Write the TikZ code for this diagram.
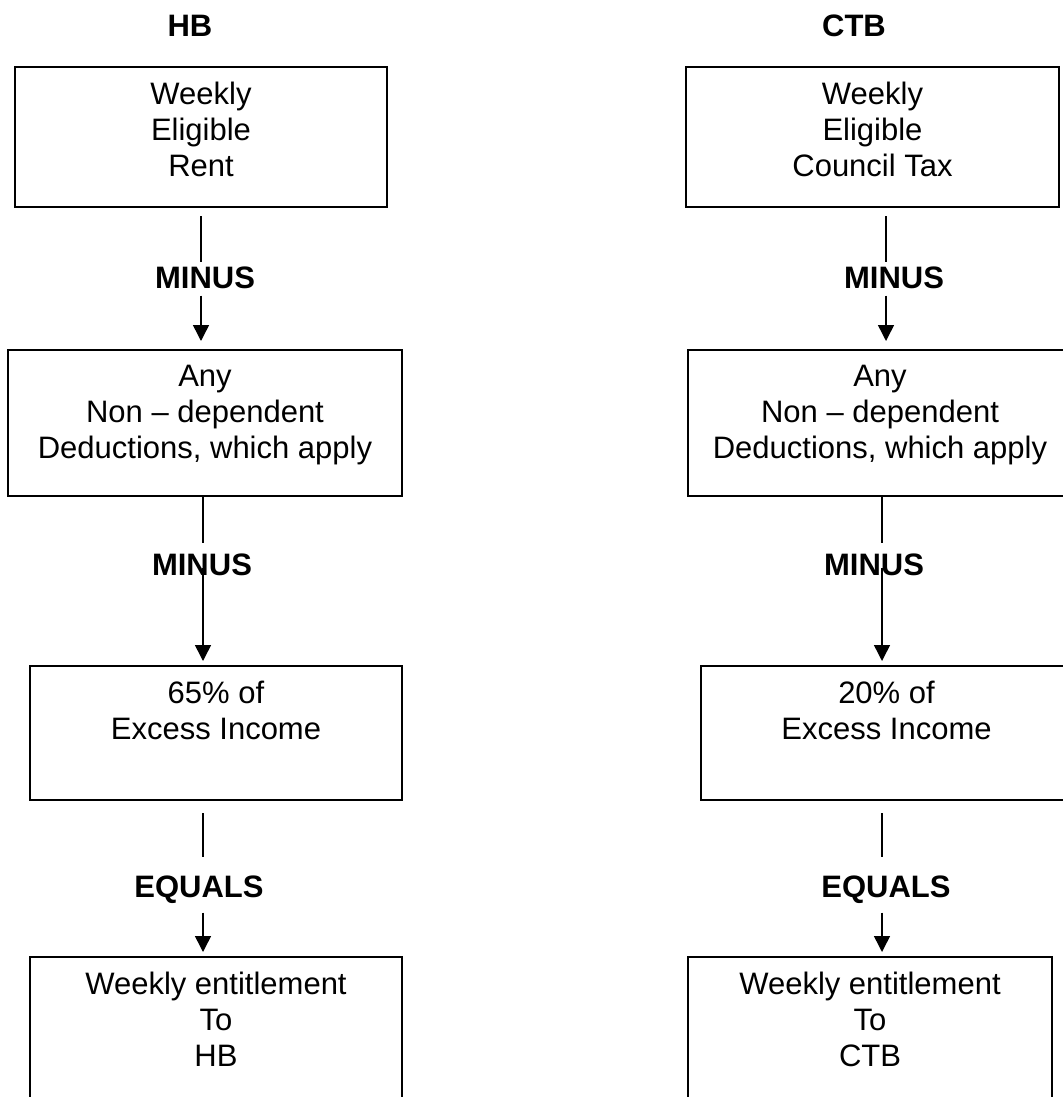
\documentclass[tikz,border=0pt]{standalone}
\usepackage{fontspec}
\setmainfont{Liberation Sans}
\usetikzlibrary{arrows.meta,positioning}

\begin{document}
\begin{tikzpicture}[
  x=0.5pt,y=-0.5pt,
  >={Triangle[length=8pt,width=8pt]},
  calcbox/.style={draw,line width=1pt,inner sep=0pt},
  boxtext/.style={align=center,inner sep=0pt,font=\fontsize{15.5}{17.9}\selectfont},
  oplabel/.style={inner sep=2pt,font=\fontsize{15.5}{18}\selectfont\bfseries},
  link/.style={line width=0.75pt}
]
  \useasboundingbox (0,0) rectangle (1063,1097);
  \clip (0,0) rectangle (1063,1097);
  \coordinate (colA) at (201,0);
  \coordinate (colB) at (203,0);
  \coordinate (colC) at (886,0);
  \coordinate (colD) at (882,0);

  % HB
  \node[oplabel,anchor=base] (hbtitle) at (190,37) {HB};
  \node[calcbox,minimum width=186pt,minimum height=70pt] (rentbox) at (201,137) {};
  \node[boxtext,below=8pt of rentbox.north] (renttext) {Weekly\\Eligible\\Rent};
  \node[calcbox,minimum width=197pt,minimum height=73pt] (hbdedbox) at (205,423) {};
  \node[boxtext,below=8pt of hbdedbox.north] (hbdedtext) {Any\\Non – dependent\\Deductions, which apply};
  \node[calcbox,minimum width=186pt,minimum height=67pt] (hbincbox) at (216,733) {};
  \node[boxtext,below=8pt of hbincbox.north] (hbinctext) {65\% of\\Excess Income};
  \node[calcbox,minimum width=186pt,minimum height=85pt] (hbendbox) at (216,1042) {};
  \node[boxtext,below=8pt of hbendbox.north] (hbendtext) {Weekly entitlement\\To\\HB};
  \node[oplabel,anchor=base] (hbminusA) at (205,288) {MINUS};
  \node[oplabel,anchor=base] (hbminusB) at (202,575) {MINUS};
  \node[oplabel,anchor=base] (hbequals) at (199,897) {EQUALS};

  \draw[link,shorten <=4pt] (rentbox.south -| colA) -- (hbminusA.north -| colA);
  \draw[link,->,shorten <=1.5pt,shorten >=4pt] (hbminusA.south -| colA) -- (hbdedbox.north -| colA);
  \draw[link,shorten >=3pt] (hbdedbox.south -| colB) -- (hbminusB.north -| colB);
  \draw[link,->,shorten <=-6pt,shorten >=2pt] (hbminusB.south -| colB) -- (hbincbox.north -| colB);
  \draw[link,shorten <=6pt,shorten >=6.75pt] (hbincbox.south -| colB) -- (hbequals.north -| colB);
  \draw[link,->,shorten <=2.5pt,shorten >=2pt] (hbequals.south -| colB) -- (hbendbox.north -| colB);

  % CTB
  \node[oplabel,anchor=base] (ctbtitle) at (854,37) {CTB};
  \node[calcbox,minimum width=186.5pt,minimum height=70pt] (taxbox) at (872.5,137) {};
  \node[boxtext,below=8pt of taxbox.north] (taxtext) {Weekly\\Eligible\\Council Tax};
  \node[calcbox,minimum width=192pt,minimum height=73pt] (ctbdedbox) at (880,423) {};
  \node[boxtext,below=8pt of ctbdedbox.north] (ctbdedtext) {Any\\Non – dependent\\Deductions, which apply};
  \node[calcbox,minimum width=185.5pt,minimum height=67pt] (ctbincbox) at (886.5,733) {};
  \node[boxtext,below=8pt of ctbincbox.north] (ctbinctext) {20\% of\\Excess Income};
  \node[calcbox,minimum width=182pt,minimum height=85pt] (ctbendbox) at (870,1042) {};
  \node[boxtext,below=8pt of ctbendbox.north] (ctbendtext) {Weekly entitlement\\To\\CTB};
  \node[oplabel,anchor=base] (ctbminusA) at (894,288) {MINUS};
  \node[oplabel,anchor=base] (ctbminusB) at (874,575) {MINUS};
  \node[oplabel,anchor=base] (ctbequals) at (886,897) {EQUALS};

  \draw[link,shorten <=4pt] (taxbox.south -| colC) -- (ctbminusA.north -| colC);
  \draw[link,->,shorten <=1.5pt,shorten >=4pt] (ctbminusA.south -| colC) -- (ctbdedbox.north -| colC);
  \draw[link,shorten >=3pt] (ctbdedbox.south -| colD) -- (ctbminusB.north -| colD);
  \draw[link,->,shorten <=-6pt,shorten >=2pt] (ctbminusB.south -| colD) -- (ctbincbox.north -| colD);
  \draw[link,shorten <=6pt,shorten >=6.75pt] (ctbincbox.south -| colD) -- (ctbequals.north -| colD);
  \draw[link,->,shorten <=2.5pt,shorten >=2pt] (ctbequals.south -| colD) -- (ctbendbox.north -| colD);
\end{tikzpicture}
\end{document}
